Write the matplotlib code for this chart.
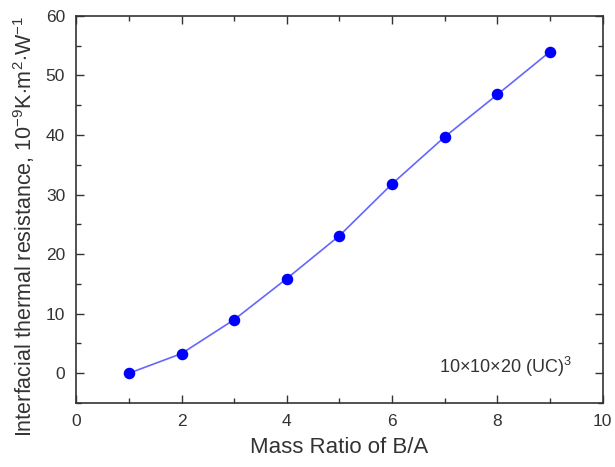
import matplotlib
matplotlib.use("Agg")
import matplotlib.pyplot as plt
from matplotlib.ticker import MultipleLocator

plt.rcParams['font.family'] = ['Liberation Sans', 'DejaVu Sans']
plt.rcParams['mathtext.fontset'] = 'custom'
plt.rcParams['mathtext.rm'] = 'Liberation Sans'
plt.rcParams['mathtext.it'] = 'Liberation Sans:italic'
plt.rcParams['mathtext.bf'] = 'Liberation Sans:bold'

# data
mass_ratio = [1, 2, 3, 4, 5, 6, 7, 8, 9]
resistance = [0.0, 3.3, 9.0, 15.9, 23.1, 31.8, 39.7, 46.8, 54.0]

fig = plt.figure(figsize=(6.15, 4.67), dpi=100)
ax = fig.add_axes([0.124, 0.137, 0.856, 0.829])

ax.plot(mass_ratio, resistance, color="#6666ff", lw=1.2, zorder=2)
ax.plot(mass_ratio, resistance, "o", color="#0000ff", ms=7.3, mec="#0000ff", zorder=3)

ax.set_xlim(0, 10)
ax.set_ylim(-5, 60)
ax.xaxis.set_major_locator(MultipleLocator(2))
ax.xaxis.set_minor_locator(MultipleLocator(1))
ax.yaxis.set_major_locator(MultipleLocator(10))
ax.yaxis.set_minor_locator(MultipleLocator(5))
ax.tick_params(which="both", direction="in", top=True, right=True, width=1.0, color="#333333")
ax.tick_params(which="major", length=6, labelsize=12.5, pad=8, labelcolor="#333333")
ax.tick_params(which="minor", length=3.5)
for s in ax.spines.values():
    s.set_linewidth(1.2)
    s.set_color("#333333")

ax.set_xlabel("Mass Ratio of B/A", fontsize=16, labelpad=6, color="#333333")
ax.set_ylabel("Interfacial thermal resistance, 10$^{-9}$K$\\cdot$m$^{2}$$\\cdot$W$^{-1}$",
              fontsize=15.5, color="#333333")
ax.yaxis.set_label_coords(-0.074, 0.455)

ax.text(8.15, 1.1, "10\u00d710\u00d720 (UC)$^{3}$", fontsize=13, ha="center", va="center", color="#333333")

plt.savefig("out.png", dpi=100)
